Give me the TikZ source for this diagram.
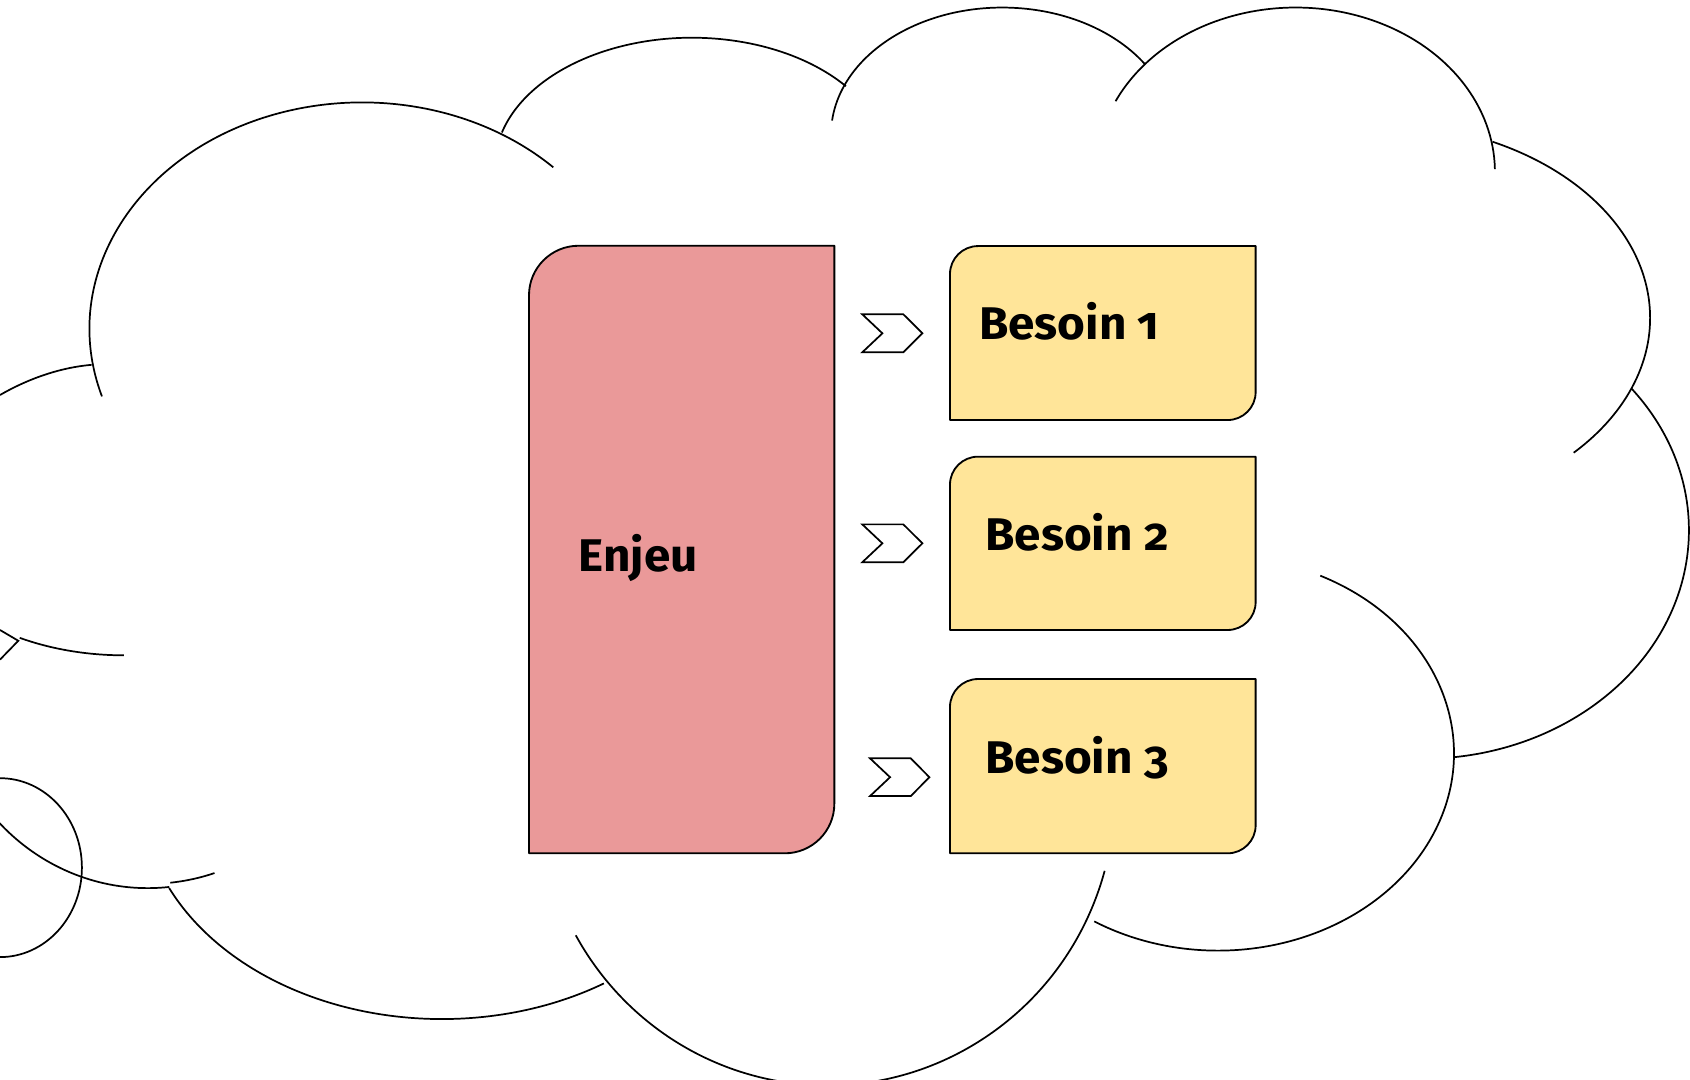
\documentclass[tikz,border=0pt]{standalone}
\usepackage{fontspec}
\newfontfamily\lblfont{Fira Sans}[Numbers=OldStyle, FakeStretch=1.04]
\definecolor{enjeufill}{HTML}{EA9999}
\definecolor{besoinfill}{HTML}{FFE599}
\tikzset{
  cloudline/.style={draw=black, line width=1.6pt},
  boxline/.style={draw=black, line width=1.7pt, line join=round},
  chevshape/.style={draw=black, fill=white, line width=1.6pt},
  lbl/.style={inner sep=0pt, anchor=base west, font=\lblfont\bfseries\fontsize{42.5}{50}\selectfont}
}
% cx cy rx ry t1 t2  (y measured downward, angles clockwise on screen)
\newcommand{\cloudlobe}[6]{\draw[cloudline] ({#1+#3*cos(#5)},{-(#2+#4*sin(#5))}) arc[start angle={-(#5)}, end angle={-(#6)}, x radius=#3, y radius=#4];}
% top bottom
\newcommand{\besoinbox}[2]{\draw[boxline, fill=besoinfill] (881.4,{-(#2)}) -- (881.4,{-(#1+26)}) arc[start angle=180, end angle=90, radius=26] -- (1165,{-(#1)}) -- (1165,{-(#2-26)}) arc[start angle=0, end angle=-90, radius=26] -- cycle;}
% xleft xshoulder xtip xnotch ytop ybottom
\newcommand{\chevron}[6]{\draw[chevshape] (#1,{-(#5)}) -- (#2,{-(#5)}) -- (#3,{-(#5+#6)/2}) -- (#2,{-(#6)}) -- (#1,{-(#6)}) -- (#4,{-(#5+#6)/2}) -- cycle;}
\begin{document}
\begin{tikzpicture}[x=1pt, y=1pt]
\useasboundingbox (0,0) rectangle (1568,-1002);
\fill[white] (0,0) rectangle (1568,-1002);
\begin{scope}
\clip (0,0) rectangle (1568,-1002);
% cloud lobes
\cloudlobe{336}{305}{253}{210}{162.6}{314.5}
\cloudlobe{642}{155}{183}{120}{195.5}{321.3}
\cloudlobe{930}{125}{159}{118}{186.4}{326.4}
\cloudlobe{1202}{159.6}{185}{152.6}{205.5}{359}
\cloudlobe{1275}{295}{256}{181}{295.4}{403.7}
\cloudlobe{1320}{492}{247}{212}{321.7}{443.4}
\cloudlobe{1130}{699}{219}{183}{295.7}{481.6}
\cloudlobe{767.5}{736}{267}{271}{15.4}{150.9}
\cloudlobe{410}{735.5}{279}{210}{57.4}{155.1}
\cloudlobe{137}{624}{192}{200}{84}{150}
\cloudlobe{115}{478}{200}{130}{118.9}{90}
% small pieces on the left
\draw[cloudline] (0,-366.5) .. controls (25,-352) and (55,-341) .. (85,-338.5);
\draw[cloudline] (0,-584.5) -- (17,-594.5) -- (0,-612);
\draw[cloudline] (158,-819) .. controls (172,-817.5) and (186,-814.5) .. (199,-810);
\draw[cloudline] (0,-805) ellipse[x radius=76, y radius=83];
\end{scope}
% Enjeu box
\draw[boxline, fill=enjeufill] (490.8,-791.7) -- (490.8,-274) arc[start angle=180, end angle=90, radius=46] -- (774.1,-228) -- (774.1,-745.7) arc[start angle=0, end angle=-90, radius=46] -- cycle;
% Besoin boxes
\besoinbox{228.3}{389.7}
\besoinbox{423.7}{584.5}
\besoinbox{630}{791.7}
% chevrons
\chevron{800}{838.1}{855.8}{818.7}{291.6}{326.9}
\chevron{800}{838.1}{855.8}{818.7}{486.5}{521.7}
\chevron{807.2}{845}{862.3}{825.8}{703.6}{738.6}
% labels
\node[lbl] (enjeu) at (536.6,-530.4) {Enjeu};
\node[lbl] (b1) at (908.3,-314.6) {Besoin 1};
\node[lbl] (b2) at (914,-510.3) {Besoin 2};
\node[lbl] (b3) at (914,-717.5) {Besoin 3};
\end{tikzpicture}
\end{document}
